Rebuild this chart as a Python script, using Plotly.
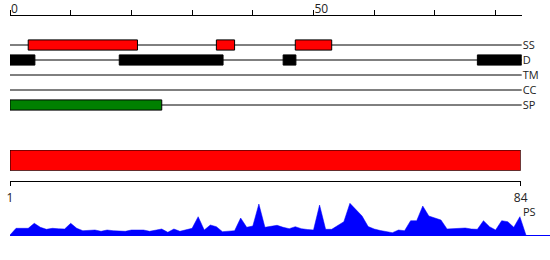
import plotly.graph_objects as go

W, H = 550, 260

# ---------------- data ----------------
TRACKS = ["SS", "D", "TM", "CC", "SP"]
RULER_TICKS = [0, 10, 20, 30, 40, 50, 60, 70, 80]
RULER_LABELS = ["0", "", "", "", "", "50", "", "", ""]
SEQ_RULER_END = 84.3

SS_START = [3, 34, 47]
SS_END = [21, 37, 53]
D_START = [0, 18, 45, 77]
D_END = [4.1, 35.1, 47.1, 84.3]
SP_START = [0]
SP_END = [25]

DOMAIN_START = [1]
DOMAIN_END = [84]
SEQ_TICKS = [1, 84]
SEQ_LABELS = ["1", "84"]

PS = [0, 6.7, 6.7, 6.7, 11.7, 7.7, 5.7, 6.7, 6.2, 6.0,
      11.7, 6.7, 4.3, 4.5, 5.0, 3.7, 5.0, 4.3, 4.0, 3.7,
      5.0, 5.0, 5.0, 3.7, 4.5, 6.0, 2.7, 6.0, 3.7, 5.0,
      6.7, 18.3, 5.0, 10.0, 8.3, 3.3, 4.0, 4.3, 17.0, 7.7,
      9.0, 31.0, 7.7, 8.5, 9.7, 7.7, 6.3, 8.3, 6.3, 5.5,
      5.0, 30.0, 5.7, 5.7, 9.5, 13.3, 31.7, 25.0, 19.0, 8.5,
      6.0, 4.5, 3.5, 2.3, 5.0, 4.3, 14.3, 14.3, 29.0, 19.0,
      17.0, 15.0, 6.0, 6.5, 7.0, 7.0, 6.0, 5.7, 14.3, 8.3,
      5.0, 14.3, 13.3, 7.7, 18.3, 0]
PS_POS = list(range(len(PS)))

# ---------------- helpers ----------------
def fy(y):
    return 1 - y / H

def fx(x):
    return x / W

FONT = "Open Sans, Noto Sans, sans-serif"
TXT = "#222222"

fig = go.Figure()

# track feature boxes
def add_boxes(track, starts, ends, color):
    idx = TRACKS.index(track)
    fig.add_trace(go.Bar(
        orientation="h",
        y=[idx] * len(starts),
        base=starts,
        x=[e - s for s, e in zip(starts, ends)],
        width=0.68,
        marker=dict(color=color, line=dict(color="black", width=1)),
        xaxis="x", yaxis="y", showlegend=False, hoverinfo="skip",
    ))

add_boxes("SS", SS_START, SS_END, "#ff0000")
add_boxes("D", D_START, D_END, "#000000")
add_boxes("SP", SP_START, SP_END, "#008000")

# track baselines
for i, t in enumerate(TRACKS):
    fig.add_shape(type="line", xref="x domain", yref="y",
                  x0=0, x1=1, y0=i, y1=i, layer="below",
                  line=dict(color="black", width=1))

# domain bar
fig.add_trace(go.Bar(
    orientation="h",
    y=[0] * len(DOMAIN_START),
    base=DOMAIN_START,
    x=[e - s for s, e in zip(DOMAIN_START, DOMAIN_END)],
    width=1,
    marker=dict(color="#ff0000", line=dict(color="black", width=1)),
    xaxis="x2", yaxis="y2", showlegend=False, hoverinfo="skip",
))

# PS area
fig.add_trace(go.Scatter(
    x=PS_POS, y=PS, mode="lines", fill="tozeroy",
    fillcolor="#0000ff", line=dict(color="#0000ff", width=0.5),
    xaxis="x3", yaxis="y3", showlegend=False, hoverinfo="skip",
))

fig.update_layout(
    width=W, height=H,
    margin=dict(l=0, r=0, t=0, b=0, autoexpand=False),
    paper_bgcolor="white", plot_bgcolor="white",
    barmode="overlay",
    font=dict(family=FONT, color=TXT, size=11),
    xaxis=dict(
        domain=[fx(10), fx(521.7)], range=[0, SEQ_RULER_END],
        side="top", anchor="free", position=fy(15),
        showline=True, linecolor="black", linewidth=1,
        ticks="outside", ticklen=5, tickcolor="black", tickwidth=1,
        tickvals=RULER_TICKS, ticktext=RULER_LABELS,
        ticklabelposition="outside right", ticklabelstandoff=-3,
        tickfont=dict(size=12), automargin=False,
        showgrid=False, zeroline=False, fixedrange=True,
    ),
    yaxis=dict(
        domain=[fy(112.5), fy(37.5)], range=[4.5, -0.5],
        anchor="x", side="right", automargin=False,
        tickvals=list(range(len(TRACKS))), ticktext=TRACKS,
        ticks="", showline=False, showgrid=False, zeroline=False,
        tickfont=dict(size=11),
    ),
    xaxis2=dict(
        domain=[fx(10), fx(520.7)], range=[1, 84],
        anchor="free", position=fy(180.7), side="bottom",
        showline=True, linecolor="black", linewidth=1,
        ticks="outside", ticklen=4, tickcolor="black",
        tickvals=SEQ_TICKS, ticktext=SEQ_LABELS, ticklabelstandoff=2,
        tickfont=dict(size=12), automargin=False,
        showgrid=False, zeroline=False,
    ),
    yaxis2=dict(
        domain=[fy(170.7), fy(150)], range=[-0.5, 0.5],
        anchor="x2", visible=False, automargin=False,
    ),
    xaxis3=dict(
        domain=[fx(10), 1], range=[0, 540 / 6.07],
        anchor="y3", showline=True, linecolor="#0000ff", linewidth=1,
        showticklabels=False, ticks="", showgrid=False, zeroline=False,
        automargin=False,
    ),
    yaxis3=dict(
        domain=[fy(235), fy(195)], range=[0, 40],
        anchor="x3", visible=False, automargin=False,
    ),
    annotations=[dict(
        text="PS", xref="paper", yref="paper",
        x=fx(521), y=fy(211.5), xanchor="left", yanchor="middle",
        showarrow=False, font=dict(size=11, color=TXT),
    )],
)

fig.write_html("out.html")
